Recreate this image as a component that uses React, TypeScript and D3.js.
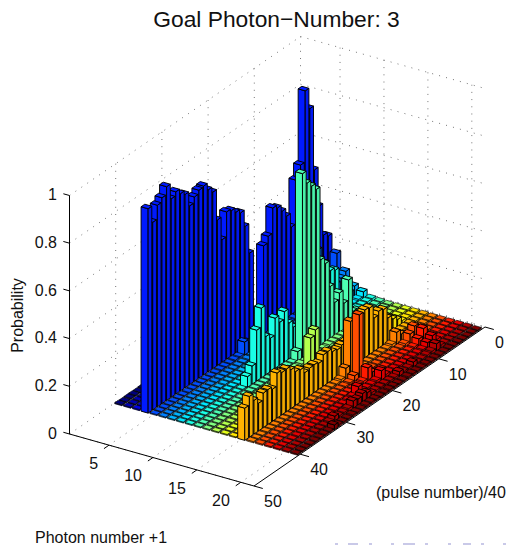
import React from 'react';
import * as d3 from 'd3';

// Probability per pulse (index 0 = pulse 1 ... index 39 = pulse 40), one list per photon number
const photon1 = [.004, .004, .003, .004, .004, .003, .004, .004, .003, .004, .004, .003, .004, .004, .003, .004, .004, .003, .004, .004, .003, .004, .004, .003, .004, .004, .003, .004, .004, .003, .004, .004, .003, .004, .004, .003, .004, .004, .003, .004];
const photon2 = [.004, .004, .004, .004, .004, .004, .004, .004, .004, .004, .004, .004, .004, .004, .004, .004, .004, .004, .004, .004, .004, .004, .004, .004, .004, .004, .004, .004, .004, .004, .004, .004, .004, .004, .004, .004, .004, .004, .004, .004];
const photon3 = [.005, .005, .005, .005, .005, .005, .005, .005, .005, .005, .005, .007, .012, .03, .05, .06, .07, .03, .007, .005, .005, .005, .005, .005, .005, .005, .005, .005, .005, .005, .005, .005, .005, .005, .005, .005, .005, .005, .005, .005];
const photon4 = [.223, .24, .375, .54, .81, .898, .6, .55, .367, .426, .46, .487, .5, .395, .368, .02, .02, .378, .503, .573, .589, .609, .617, .514, .61, .74, .763, .792, .788, .773, .749, .81, .827, .848, .832, .896, .863, .845, .787, .857];
const photon5 = [.16, .1, .06, .03, .012, .012, .009, .009, .007, .007, .006, .006, .006, .006, .006, .007, .007, .009, .012, .04, .055, .007, .006, .005, .005, .005, .004, .004, .004, .004, .004, .004, .004, .004, .004, .004, .004, .004, .004, .004];
const photon6 = [.095, .08, .07, .09, .15, .2, .265, .15, .05, .012, .007, .007, .006, .006, .006, .006, .006, .006, .006, .006, .007, .006, .005, .005, .005, .005, .005, .005, .004, .004, .004, .004, .004, .004, .004, .004, .004, .004, .004, .004];
const photon7 = [.044, .03, .03, .012, .012, .012, .012, .009, .009, .007, .006, .006, .006, .006, .006, .006, .006, .006, .006, .006, .006, .006, .005, .005, .005, .005, .005, .005, .005, .004, .004, .004, .004, .004, .004, .004, .004, .004, .004, .004];
const photon8 = [.03, .012, .009, .009, .007, .007, .007, .007, .007, .006, .006, .006, .006, .006, .006, .006, .006, .006, .006, .006, .006, .006, .006, .006, .006, .005, .005, .005, .005, .005, .005, .004, .004, .004, .004, .004, .004, .004, .004, .004];
const photon9 = [.012, .012, .012, .012, .012, .012, .03, .12, .238, .25, .25, .2, .15, .12, .1, .1, .1, .12, .15, .211, .18, .21, .14, .16, .292, .213, .076, .045, .005, .005, .004, .004, .004, .004, .004, .004, .004, .004, .004, .004];
const photon10 = [.009, .009, .009, .009, .009, .04, .05, .194, .11, .166, .14, .22, .33, .359, .667, .694, .72, .773, .04, .006, .006, .006, .005, .005, .005, .005, .005, .005, .005, .004, .004, .004, .004, .004, .004, .004, .004, .004, .004, .004];
const photon11 = [.007, .007, .007, .012, .012, .009, .012, .009, .012, .009, .012, .012, .012, .012, .009, .009, .012, .009, .009, .012, .009, .012, .007, .007, .007, .007, .006, .006, .006, .006, .006, .005, .005, .005, .005, .005, .004, .004, .004, .004];
const photon12 = [.007, .007, .009, .012, .012, .012, .012, .012, .009, .009, .009, .009, .009, .009, .009, .009, .009, .012, .152, .131, .009, .009, .007, .007, .007, .006, .006, .006, .006, .006, .006, .005, .005, .005, .005, .005, .004, .004, .004, .004];
const photon13 = [.007, .007, .009, .012, .03, .035, .04, .03, .012, .009, .007, .007, .007, .007, .007, .007, .007, .007, .007, .009, .009, .007, .007, .007, .006, .006, .006, .006, .006, .006, .005, .005, .005, .005, .005, .005, .004, .004, .004, .004];
const photon14 = [.007, .007, .009, .012, .03, .045, .05, .05, .04, .012, .009, .009, .007, .007, .007, .007, .007, .007, .007, .009, .009, .009, .007, .007, .007, .007, .007, .007, .006, .006, .006, .006, .006, .005, .005, .005, .005, .005, .004, .004];
const photon15 = [.007, .007, .007, .009, .009, .009, .012, .03, .1, .148, .155, .14, .195, .2, .19, .18, .15, .12, .12, .113, .119, .133, .132, .11, .117, .116, .111, .136, .142, .163, .179, .178, .189, .135, .146, .145, .116, .141, .171, .135];
const photon16 = [.006, .007, .007, .007, .007, .009, .012, .03, .05, .012, .007, .007, .007, .007, .007, .007, .009, .03, .229, .046, .012, .007, .007, .007, .007, .007, .006, .006, .006, .006, .006, .006, .006, .006, .006, .006, .006, .005, .005, .005];
const photon17 = [.006, .006, .006, .007, .009, .012, .06, .04, .012, .007, .007, .007, .007, .007, .007, .007, .009, .012, .267, .025, .009, .007, .007, .007, .007, .006, .006, .006, .006, .006, .006, .006, .006, .006, .006, .006, .006, .005, .005, .005];
const photon18 = [.006, .006, .006, .007, .007, .012, .06, .03, .009, .007, .007, .007, .007, .007, .007, .009, .012, .025, .055, .012, .009, .007, .007, .007, .007, .007, .006, .006, .006, .006, .006, .006, .006, .006, .006, .006, .005, .005, .005, .005];
const photon19 = [.006, .006, .006, .006, .007, .012, .04, .025, .009, .007, .007, .007, .007, .009, .009, .009, .012, .04, .012, .009, .009, .012, .04, .012, .009, .007, .007, .007, .007, .007, .006, .006, .006, .006, .006, .006, .005, .005, .005, .005];
const photon20 = [.006, .006, .006, .006, .007, .007, .012, .03, .012, .009, .007, .007, .02, .009, .009, .02, .009, .009, .009, .009, .009, .012, .025, .035, .025, .03, .012, .009, .009, .02, .009, .007, .007, .006, .006, .006, .005, .005, .005, .005];
const photon21 = [.005, .005, .005, .005, .006, .006, .007, .007, .007, .007, .007, .009, .007, .007, .009, .009, .007, .007, .009, .009, .007, .007, .009, .009, .009, .007, .007, .009, .007, .007, .009, .02, .007, .007, .006, .006, .005, .005, .005, .005];

const photonRows = [photon1, photon2, photon3, photon4, photon5, photon6, photon7, photon8, photon9, photon10, photon11, photon12, photon13, photon14, photon15, photon16, photon17, photon18, photon19, photon20, photon21];

const photonTicks = [5, 10, 15, 20];
const pulseTicks = [0, 10, 20, 30, 40, 50];
const probTicks = [0, 0.2, 0.4, 0.6, 0.8, 1];

// the faint slide navigation marks at the bottom of the capture
const navMarks = [[335, 3], [348, 10], [369, 3], [391, 3], [403, 12], [425, 3], [448, 3], [463, 8], [481, 3], [503, 3]];

const FONT = '"Liberation Sans", Arial, sans-serif';
const xMin = 0.5;
const xMax = 21.5;
const yMin = 0;
const yMax = 50;
const barHalf = 0.4;

// Oblique projection of MATLAB's view: each data axis adds a fixed screen offset
const xToPx = d3.scaleLinear().domain([xMin, xMax]).range([69.5, 254]);
const xToPy = d3.scaleLinear().domain([xMin, xMax]).range([434, 486]);
const yToPx = d3.scaleLinear().domain([yMax, yMin]).range([0, 231]);
const yToPy = d3.scaleLinear().domain([yMax, yMin]).range([0, -159]);
const zToPy = d3.scaleLinear().domain([0, 1]).range([0, -238.5]);

const project = (x: number, y: number, z: number): [number, number] => [
  xToPx(x) + yToPx(y),
  xToPy(x) + yToPy(y) + zToPy(z),
];

const poly = d3.line();
const seg = (a: [number, number, number], b: [number, number, number]) => poly([project(...a), project(...b)]) as string;
const face = (pts: [number, number, number][]) => (poly(pts.map((p) => project(...p))) as string) + 'Z';

// jet colormap, by photon number
const jet = d3.scaleLinear<string>()
  .domain([0, 0.125, 0.375, 0.625, 0.875, 1].map((t) => 1 + t * 20))
  .range(['#00007f', '#0000ff', '#00ffff', '#ffff00', '#ff0000', '#7f0000'])
  .interpolate(d3.interpolateRgb);

function shade(color: string, k: number) {
  const c = d3.rgb(color);
  return d3.rgb(c.r * k, c.g * k, c.b * k).formatHex();
}

function Bars() {
  const faces: React.ReactNode[] = [];
  // back to front, so nearer bars cover farther ones
  photonRows.forEach((row, i) => {
    const x = i + 1;
    const color = jet(x);
    const side = shade(color, 0.94);
    row.forEach((h, j) => {
      const y = j + 1;
      const [x0, x1, y0, y1] = [x - barHalf, x + barHalf, y - barHalf, y + barHalf];
      const sw = h < 0.02 ? 0.65 : 0.95; // floor tiles stay light
      faces.push(
        <path key={`f${x}-${y}`} d={face([[x0, y1, 0], [x1, y1, 0], [x1, y1, h], [x0, y1, h]])} fill={color} strokeWidth={sw} />,
        <path key={`s${x}-${y}`} d={face([[x1, y1, 0], [x1, y0, 0], [x1, y0, h], [x1, y1, h]])} fill={side} strokeWidth={sw} />,
        <path key={`t${x}-${y}`} d={face([[x0, y0, h], [x1, y0, h], [x1, y1, h], [x0, y1, h]])} fill={color} strokeWidth={sw} />,
      );
    });
  });
  return <g stroke="#000" strokeLinejoin="round">{faces}</g>;
}

function Grid() {
  const lines: string[] = [];
  probTicks.forEach((z) => {
    lines.push(seg([xMin, yMax, z], [xMin, yMin, z]));
    lines.push(seg([xMin, yMin, z], [xMax, yMin, z]));
  });
  pulseTicks.forEach((y) => {
    if (y !== yMax) lines.push(seg([xMin, y, 0], [xMin, y, 1]));
    lines.push(seg([xMin, y, 0], [xMax, y, 0]));
  });
  photonTicks.forEach((x) => {
    lines.push(seg([x, yMin, 0], [x, yMin, 1]));
    lines.push(seg([x, yMin, 0], [x, yMax, 0]));
  });
  return (
    <g fill="none" stroke="#666" strokeWidth={0.9} strokeDasharray="1 6.2">
      {lines.map((d, i) => <path key={i} d={d} />)}
    </g>
  );
}

function Axes() {
  const fmt = d3.format('.1~f');
  return (
    <g fontFamily={FONT} fontSize={16} fill="#111">
      <g fill="none" stroke="#000" strokeWidth={1}>
        <path d={seg([xMin, yMax, 0], [xMin, yMax, 1])} />
        <path d={seg([xMin, yMax, 0], [xMax, yMax, 0])} />
        <path d={seg([xMax, yMax, 0], [xMax, yMin, 0])} />
        {probTicks.map((z) => <path key={z} d={seg([xMin, yMax, z], [xMin - 0.7, yMax, z])} />)}
        {photonTicks.map((x) => <path key={x} d={seg([x, yMax, 0], [x, yMax + 1.1, 0])} />)}
        {pulseTicks.map((y) => <path key={y} d={seg([xMax, y, 0], [xMax + 1, y, 0])} />)}
      </g>
      {probTicks.map((z) => {
        const [, py] = project(xMin, yMax, z);
        return <text key={z} x={57} y={py - 1} dy="0.36em" textAnchor="end">{fmt(z)}</text>;
      })}
      {photonTicks.map((x) => {
        const [px, py] = project(x, yMax, 0);
        return <text key={x} x={px - 11} y={py + 18} dy="0.36em" textAnchor="end">{x}</text>;
      })}
      {pulseTicks.map((y) => {
        const [px, py] = project(xMax, y, 0);
        return <text key={y} x={px + 10} y={py + 15} dy="0.36em">{y}</text>;
      })}
    </g>
  );
}

export default function App() {
  return (
    <svg width={510} height={545} style={{ position: 'absolute', left: 0, top: 0, display: 'block', background: '#fff' }}>
      <Grid />
      <Bars />
      <Axes />
      <g fontFamily={FONT} fill="#111">
        <text x={276.5} y={27} fontSize={22.8} textAnchor="middle">Goal Photon−Number: 3</text>
        <text transform="translate(23,315.5) rotate(-90)" fontSize={16} textAnchor="middle">Probability</text>
        <text x={376} y={498} fontSize={16}>(pulse number)/40</text>
        <text x={35} y={543} fontSize={16}>Photon number +1</text>
      </g>
      <g fill="#c9c9e8">
        {navMarks.map(([x, w]) => <rect key={x} x={x} y={543} width={w} height={2} />)}
      </g>
    </svg>
  );
}
